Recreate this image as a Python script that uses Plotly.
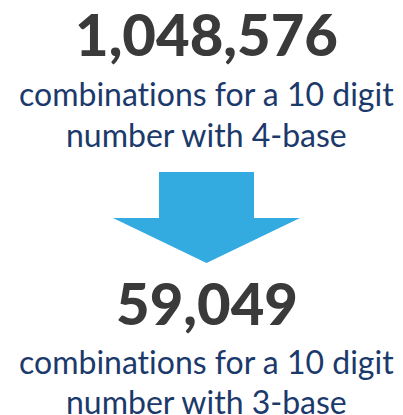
import plotly.graph_objects as go

# infographic content
big_numbers = ["1,048,576", "59,049"]
captions = [
    ["combinations for a 10 digit", "number with 4-base"],
    ["combinations for a 10 digit", "number with 3-base"],
]

# arrow outline (pixel space, y measured from top)
arrow_x = [159, 254, 254, 300, 206.5, 113, 159, 159]
arrow_y = [172, 172, 218, 218, 263, 218, 218, 172]

number_color = '#3a3a3a'
caption_color = '#1b3a6b'
arrow_color = '#33abe1'
font_family = 'Lato'

fig = go.Figure()

fig.add_trace(go.Scatter(
    x=arrow_x,
    y=arrow_y,
    mode='lines',
    fill='toself',
    fillcolor=arrow_color,
    line=dict(color=arrow_color, width=0),
    hoverinfo='skip',
    showlegend=False
))

# vertical centres of each text block
number_y = [33, 302]
caption_y = [[93, 134], [361, 401]]

for i, num in enumerate(big_numbers):
    fig.add_annotation(
        x=206.5, y=number_y[i], text=num, showarrow=False,
        xanchor='center', yanchor='middle',
        font=dict(family=font_family, size=58, color=number_color, weight=900)
    )
    for j, line in enumerate(captions[i]):
        # zero-width non-joiner stops Lato's "ti" ligature
        fig.add_annotation(
            x=206.5, y=caption_y[i][j], text=line.replace('ti', 't\u200ci'),
            showarrow=False, xanchor='center', yanchor='middle',
            font=dict(family=font_family, size=32, color=caption_color)
        )

fig.update_xaxes(range=[0, 403], visible=False, fixedrange=True)
fig.update_yaxes(range=[415, 0], visible=False, fixedrange=True)

fig.update_layout(
    width=403,
    height=415,
    margin=dict(l=0, r=0, t=0, b=0),
    paper_bgcolor='white',
    plot_bgcolor='white',
    showlegend=False
)

# drop the default page margin so the figure sits at the window's corner
fig.write_html("out.html", config={'displayModeBar': False},
               post_script="document.body.style.margin='0';document.body.style.overflow='hidden';")
